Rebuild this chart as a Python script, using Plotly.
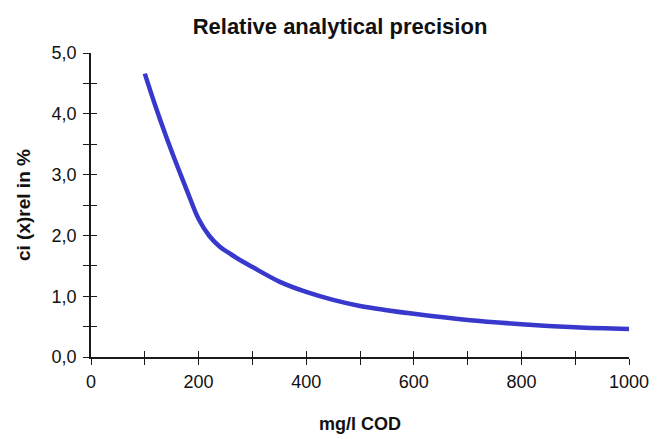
import plotly.graph_objects as go

# Data
cod_mg_l = [100, 120, 140, 160, 180, 200, 220, 240, 260, 280, 300, 350, 400, 450, 500, 550, 600, 700, 800, 900, 1000]
ci_rel_pct = [4.66, 4.12, 3.62, 3.15, 2.70, 2.27, 1.99, 1.81, 1.69, 1.58, 1.48, 1.24, 1.07, 0.94, 0.84, 0.77, 0.71, 0.61, 0.54, 0.49, 0.46]

x_tickvals = [0, 200, 400, 600, 800, 1000]
x_ticktext = ["0", "200", "400", "600", "800", "1000"]
y_tickvals = [0, 1, 2, 3, 4, 5]
y_ticktext = ["0,0", "1,0", "2,0", "3,0", "4,0", "5,0"]

title_text = "Relative analytical precision"
x_title = "mg/l COD"
y_title = "ci (x)rel in %"

FONT = "Liberation Sans, Arial, sans-serif"
LINE_COLOR = "#3838CC"
TICK_COLOR = "#1a1a1a"

fig = go.Figure()
fig.add_trace(go.Scatter(
    x=cod_mg_l, y=ci_rel_pct, mode="lines",
    line=dict(color=LINE_COLOR, width=4.5, shape="spline", smoothing=1.0),
    hoverinfo="x+y", showlegend=False,
))
# invisible copy on overlay axes so their inward ticks render (crossing ticks)
fig.add_trace(go.Scatter(
    x=cod_mg_l, y=ci_rel_pct, mode="lines", xaxis="x2", yaxis="y2",
    line=dict(color="rgba(0,0,0,0)", width=0), hoverinfo="skip", showlegend=False,
))

tick_common = dict(ticklen=6, tickwidth=1.4, tickcolor=TICK_COLOR)
minor_out_x = dict(dtick=100, tick0=0, ticks="outside", ticklen=6, tickwidth=1.4, tickcolor=TICK_COLOR)
minor_in_x = dict(dtick=100, tick0=0, ticks="inside", ticklen=6, tickwidth=1.4, tickcolor=TICK_COLOR)
minor_out_y = dict(dtick=0.5, tick0=0, ticks="outside", ticklen=6, tickwidth=1.4, tickcolor=TICK_COLOR)
minor_in_y = dict(dtick=0.5, tick0=0, ticks="inside", ticklen=6, tickwidth=1.4, tickcolor=TICK_COLOR)

fig.update_layout(
    width=657, height=439,
    margin=dict(l=91, r=28, t=53, b=82, autoexpand=False),
    paper_bgcolor="white", plot_bgcolor="white",
    font=dict(family=FONT, color="#111"),
    title=dict(text="<b>" + title_text + "</b>", x=340 / 657, xanchor="center",
               xref="container",
               y=1 - 26 / 439, yanchor="middle", yref="container",
               font=dict(size=22, family=FONT, color="#111")),
    xaxis=dict(range=[0, 1000], tickvals=x_tickvals, ticktext=x_ticktext,
               ticks="outside", **tick_common, minor=minor_out_x,
               showline=True, linecolor=TICK_COLOR, linewidth=1.5, showgrid=False, zeroline=False,
               tickfont=dict(size=18, family=FONT), ticklabelstandoff=2, automargin=False),
    yaxis=dict(range=[0, 5], tickvals=y_tickvals, ticktext=y_ticktext,
               ticks="outside", **tick_common, minor=minor_out_y,
               showline=True, linecolor=TICK_COLOR, linewidth=1.5, showgrid=False, zeroline=False,
               tickfont=dict(size=18, family=FONT), ticklabelstandoff=3, automargin=False),
    xaxis2=dict(range=[0, 1000], overlaying="x", anchor="y2", tickvals=x_tickvals,
                ticks="inside", **tick_common, showticklabels=False, minor=minor_in_x,
                showline=False, showgrid=False, zeroline=False, automargin=False),
    yaxis2=dict(range=[0, 5], overlaying="y", anchor="x2", side="left", tickvals=y_tickvals,
                ticks="inside", **tick_common, showticklabels=False, minor=minor_in_y,
                showline=False, showgrid=False, zeroline=False, automargin=False),
    annotations=[
        dict(text="<b>" + x_title + "</b>", xref="paper", yref="paper",
             x=0.5, y=-67 / 305, xanchor="center", yanchor="middle", showarrow=False,
             font=dict(size=18, family=FONT, color="#111")),
        dict(text="<b>" + y_title + "</b>", xref="paper", yref="paper",
             x=-68 / 538, y=0.5, xanchor="center", yanchor="middle", showarrow=False,
             textangle=-90, font=dict(size=19, family=FONT, color="#111")),
    ],
)

fig.write_html("out.html")
